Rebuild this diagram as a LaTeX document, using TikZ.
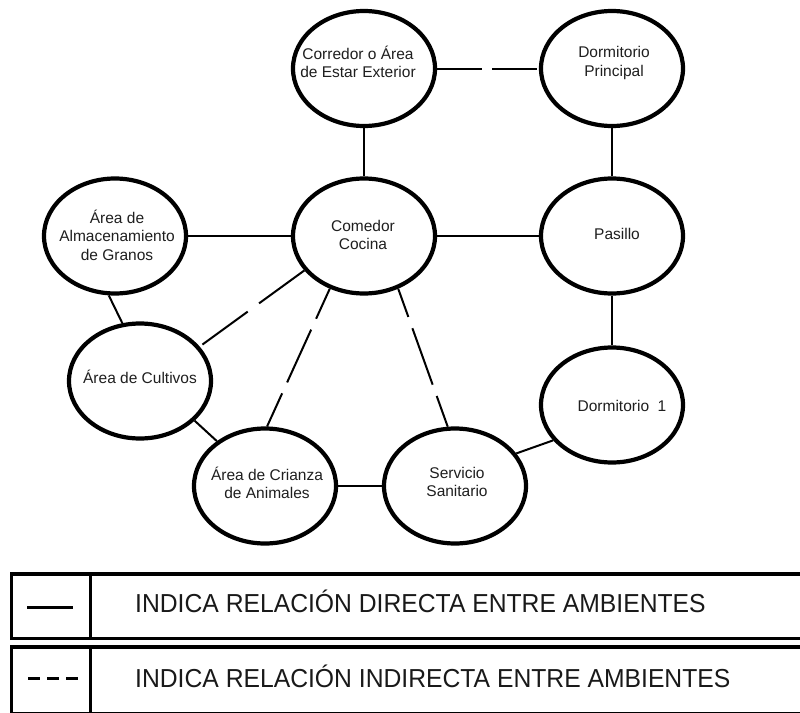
\documentclass[tikz,border=0pt]{standalone}
\usepackage{fontspec}
\setmainfont{Liberation Sans}
\usetikzlibrary{shapes.geometric}
\begin{document}
\begin{tikzpicture}[x=1pt,y=-1pt,
  room/.style={ellipse,draw,line width=4.2pt,minimum width=142pt,minimum height=115pt,inner sep=0pt},
  roomtxt/.style={align=center,font=\fontsize{15.5}{18.5}\selectfont,inner sep=0pt,text=black!88},
  link/.style={line width=2pt},
  ilink/.style={line width=2pt},
  legbox/.style={line width=3.8pt},
  legtxt/.style={anchor=base west,inner sep=0pt,font=\fontsize{26}{30}\selectfont,text=black!90}]
\useasboundingbox (0,0) rectangle (800,712);
\fill[white] (0,0) rectangle (800,712);
% rooms
\node[room] (cor) at (364,68.5) {};
\node[roomtxt] (cor-t) at (358,62) {Corredor o Área\\de Estar Exterior};
\node[room] (dp) at (612,68.5) {};
\node[roomtxt] (dp-t) at (614,63) {Dormitorio\\Principal};
\node[room] (com) at (364,236) {};
\node[roomtxt] (com-t) at (363,235) {Comedor\\Cocina};
\node[room] (alm) at (115,236) {};
\node[roomtxt] (alm-t) at (117,235) {Área de\\Almacenamiento\\de Granos};
\node[room] (pas) at (612,236) {};
\node[roomtxt] (pas-t) at (617,234) {Pasillo};
\node[room] (d1) at (612,405) {};
\node[roomtxt] (d1-t) at (622,406) {Dormitorio\ \ 1};
\node[room] (cul) at (140,381) {};
\node[roomtxt] (cul-t) at (140,377) {Área de Cultivos};
\node[room] (cri) at (265,486) {};
\node[roomtxt] (cri-t) at (267,483) {Área de Crianza\\de Animales};
\node[room] (ser) at (455,486) {};
\node[roomtxt] (ser-t) at (457,482) {Servicio\\Sanitario};
% direct links
\draw[link] (cor.south) -- (com.north);
\draw[link] (dp.south) -- (pas.north);
\draw[link] (pas.south) -- (d1.north);
\draw[link] (alm.east) -- (com.west);
\draw[link] (com.east) -- (pas.west);
\draw[link] (alm.-96) -- (cul.107);
\draw[link] (cul.-36) -- (cri.137);
\draw[link] (cri.east) -- (ser.west);
\draw[link] (ser.28) -- (d1.-149);
% indirect links
\draw[ilink,dash pattern=on 45pt off 10pt] (cor.east) -- (dp.west);
\draw[ilink,dash pattern=on 56pt off 14pt] (com.-150) -- (cul.30);
\draw[ilink,dash pattern=on 58pt off 12pt,dash phase=25pt] (com.-123) -- (cri.88);
\draw[ilink,dash pattern=on 60pt off 12pt,dash phase=30pt] (com.-57) -- (ser.97);
% legend
\draw[legbox] (11.5,574) rectangle (812,638.5);
\draw[legbox] (11.5,647) rectangle (812,714);
\draw[line width=3.2pt] (90.5,574) -- (90.5,638.5);
\draw[line width=3.2pt] (90.5,647) -- (90.5,714);
\draw[line width=3pt] (27,607) -- (73,607);
\draw[line width=3pt,dash pattern=on 12pt off 7pt] (28,678) -- (78,678);
\node[legtxt] (l1) at (135,612) {\scalebox{0.95}[1]{INDICA RELACIÓN DIRECTA ENTRE AMBIENTES}};
\node[legtxt] (l2) at (135,687) {\scalebox{0.95}[1]{INDICA RELACIÓN INDIRECTA ENTRE AMBIENTES}};
\end{tikzpicture}
\end{document}
